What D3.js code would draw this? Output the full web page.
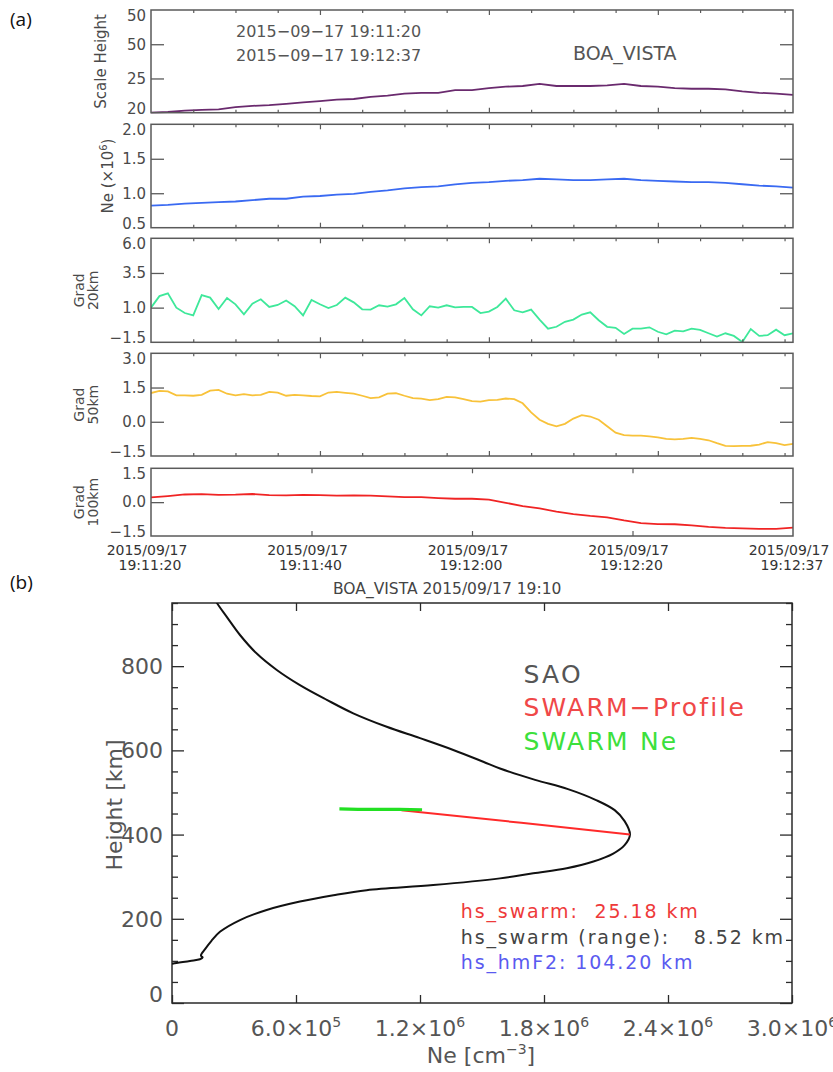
<!DOCTYPE html>
<html><head><meta charset="utf-8">
<script src="https://cdn.jsdelivr.net/npm/d3@7"></script>
<style>body{margin:0;background:#fff}svg{display:block}text{white-space:pre}</style>
</head><body>
<svg id="c" width="833" height="1072"></svg>
<script>
// ---------------- DATA ----------------
// Panel (a): time axis (seconds after 19:11:20)
const timeTickLabels = ["19:11:20", "19:11:40", "19:12:00", "19:12:20", "19:12:37"];
const dateTickLabel = "2015/09/17";
const smoothTimes = [0,2,4,6,8,10,12,14,16,18,20,22,24,26,28,30,32,34,36,38,40,42,44,46,48,50,52,54,56,58,60,62,64,66,68,70,72,74,76];
const fastTimes = d3.range(77);

const scaleHeight = [20.0,20.1,20.3,20.4,20.5,20.8,21.0,21.1,21.3,21.5,21.7,21.9,22.0,22.3,22.5,22.8,22.9,22.9,23.3,23.3,
  23.6,23.8,23.9,24.2,23.9,23.9,23.9,24.0,24.2,23.9,23.8,23.6,23.5,23.5,23.4,23.1,22.9,22.8,22.6];
const neValues = [0.82,0.83,0.85,0.86,0.87,0.88,0.90,0.92,0.92,0.95,0.96,0.98,0.99,1.02,1.04,1.07,1.09,1.10,1.13,1.15,
  1.16,1.18,1.19,1.21,1.20,1.19,1.19,1.20,1.21,1.19,1.18,1.17,1.16,1.16,1.15,1.13,1.11,1.10,1.08];
const grad20 = [1.0,1.83,2.03,1.0,0.61,0.44,1.9,1.72,0.9,1.69,1.24,0.52,1.29,1.6,1.05,1.19,1.51,1.1,0.44,1.55,1.24,0.97,1.19,1.72,1.38,0.88,0.86,1.17,1.07,1.24,1.69,0.88,
  0.44,1.1,1.0,1.17,1.02,1.05,1.05,0.61,0.71,1.05,1.65,0.81,0.66,0.86,0.14,-0.52,-0.38,-0.02,0.14,0.5,0.66,0.09,-0.38,-0.46,-0.9,-0.52,-0.52,-0.42,-0.74,-0.92,-0.66,-0.71,-0.52,-0.61,-0.85,-1.09,-0.85,-1.04,-1.48,-0.54,-1.04,-0.99,-0.59,-0.99,-0.85];
const grad50 = [1.26,1.35,1.33,1.16,1.16,1.14,1.18,1.36,1.40,1.23,1.16,1.21,1.16,1.18,1.31,1.28,1.14,1.18,1.16,1.13,1.11,1.28,1.31,1.27,1.23,1.14,1.04,1.07,1.23,1.25,1.14,1.04,
  1.01,0.95,0.99,1.09,1.07,0.99,0.90,0.88,0.95,0.96,1.02,0.99,0.81,0.41,0.09,-0.09,-0.20,-0.09,0.14,0.29,0.23,0.09,-0.20,-0.48,-0.59,-0.61,-0.61,-0.64,-0.68,-0.75,-0.77,-0.75,-0.71,-0.75,-0.81,-0.94,-1.06,-1.07,-1.06,-1.05,-1.00,-0.89,-0.94,-1.02,-0.97];
const grad100 = [0.21,0.27,0.34,0.36,0.32,0.33,0.36,0.31,0.30,0.32,0.31,0.29,0.30,0.29,0.26,0.22,0.22,0.18,0.15,0.15,
  0.11,-0.03,-0.18,-0.28,-0.42,-0.53,-0.61,-0.67,-0.81,-0.93,-0.97,-0.98,-1.03,-1.10,-1.14,-1.16,-1.18,-1.18,-1.13];

const shTicks = [20, 25, 30, 35];
const shTickLabels = ["20", "25", "50", "50"];
const neTicks = [0.5, 1.0, 1.5, 2.0];
const g20Ticks = [-1.5, 1.0, 3.5, 6.0];
const g50Ticks = [-1.5, 0.0, 1.5, 3.0];
const g100Ticks = [-1.5, 0.0, 1.5];
const headerLines = ["2015\u221209\u221217 19:11:20", "2015\u221209\u221217 19:12:37"];
const stationName = "BOA_VISTA";

// Panel (b): electron density profile
const profileTitle = "BOA_VISTA 2015/09/17 19:10";
const saoNe = [0,6.5e3,8.7e4,1.35e5,1.48e5,1.40e5,1.6e5,1.9e5,2.32e5,3.29e5,4.58e5,6.19e5,7.81e5,9.42e5,1.264e6,1.587e6,1.748e6,1.91e6,2.039e6,2.135e6,2.19e6,2.216e6,
  2.19e6,2.142e6,2.052e6,1.916e6,1.757e6,1.587e6,1.506e6,1.361e6,1.2e6,1.039e6,8.77e5,7.49e5,6.19e5,5.07e5,4.10e5,3.29e5,2.65e5,2.16e5,1.9e5];
const saoHeight = [93,94,100,104,108,113,128,147,169,197,221,241,256,268,280,296,308,320,336,355,375,400,
  432,458,482,508,530,557,573,601,629,656,688,720,755,791,830,874,917,951,975];
const swarmProfileNe = [2.216e6, 1.69e6, 1.11e6];
const swarmProfileHeight = [400, 428, 458];
const swarmNe = [8.1e5, 9.0e5, 1.0e6, 1.1e6, 1.21e6];
const swarmNeHeight = [461, 460, 460, 460, 459];
const neTickValues = [0, 6e5, 1.2e6, 1.8e6, 2.4e6, 3.0e6];
const heightTickValues = [0, 200, 400, 600, 800];
const legendLabels = ["SAO", "SWARM\u2212Profile", "SWARM Ne"];
const statLines = ["hs_swarm:  25.18 km", "hs_swarm (range):   8.52 km", "hs_hmF2: 104.20 km"];

// ---------------- DRAWING ----------------
const FONT = "DejaVu Sans";
const TXT = "#4a4a4a";
const svg = d3.select("#c");

svg.append("text").attr("x", 10).attr("y", 26).attr("font-family", "Open Sans").attr("font-size", 19).attr("fill", "#111").text("(a)");
svg.append("text").attr("x", 10).attr("y", 589).attr("font-family", "Open Sans").attr("font-size", 19).attr("fill", "#111").text("(b)");

const xA = d3.scaleLinear().domain([0, 76]).range([151, 793]);
const fmt1 = d3.format(".1f");

const panels = [
  {top: 10, bottom: 112.7, domain: [20, 35], ticks: shTicks, labels: shTickLabels, times: smoothTimes, vals: scaleHeight, color: "#6a2a6e", title: ["Scale Height"], tx: [105.5], fs: 15},
  {top: 124.3, bottom: 227.7, domain: [0.5, 2.0], ticks: neTicks, times: smoothTimes, vals: neValues, color: "#3a6af2", title: "ne", tx: [113], fs: 15},
  {top: 238.3, bottom: 342.3, domain: [-1.5, 6.0], ticks: g20Ticks, times: fastTimes, vals: grad20, color: "#3ee89a", title: ["Grad", "20km"], tx: [83.5, 98], fs: 14},
  {top: 353.3, bottom: 456, domain: [-1.5, 3.0], ticks: g50Ticks, times: fastTimes, vals: grad50, color: "#f8c23a", title: ["Grad", "50km"], tx: [83.5, 98], fs: 14},
  {top: 468.3, bottom: 536, domain: [-1.5, 1.5], ticks: g100Ticks, times: smoothTimes, vals: grad100, color: "#f02424", title: ["Grad", "100km"], tx: [83.5, 98], fs: 14, last: true}
];

const FRAME = "#5a5a5a";
panels.forEach((p, pi) => {
  const y = d3.scaleLinear().domain(p.domain).range([p.bottom, p.top]);
  const g = svg.append("g");
  const clipId = "clipA" + pi;
  svg.append("clipPath").attr("id", clipId).append("rect")
    .attr("x", 151).attr("y", p.top - 1).attr("width", 642).attr("height", p.bottom - p.top + 2);

  const line = d3.line().x((d, i) => xA(p.times[i])).y(d => y(d));
  g.append("path").datum(p.vals).attr("d", line).attr("fill", "none")
    .attr("stroke", p.color).attr("stroke-width", 1.8).attr("clip-path", `url(#${clipId})`);

  const interior = p.ticks.filter(t => t !== p.domain[0] && t !== p.domain[1]);
  const ax = g.append("g").attr("transform", "translate(151,0)")
    .call(d3.axisLeft(y).tickValues(p.ticks).tickSizeInner(-13).tickSizeOuter(0).tickPadding(5)
      .tickFormat((d, i) => p.labels ? p.labels[i] : fmt1(d)));
  ax.select(".domain").remove();
  ax.attr("font-family", FONT).attr("font-size", 15);
  ax.selectAll(".tick line").attr("stroke", FRAME).attr("stroke-width", 1.3)
    .attr("display", d => interior.includes(d) ? null : "none");
  ax.selectAll(".tick text").attr("fill", TXT)
    .attr("y", d => d === p.domain[0] ? -4.5 : (d === p.domain[1] ? 5.5 : 0));

  const ar = g.append("g").attr("transform", "translate(793,0)")
    .call(d3.axisRight(y).tickValues(interior).tickSizeInner(-13).tickSizeOuter(0).tickFormat(""));
  ar.select(".domain").remove();
  ar.selectAll(".tick line").attr("stroke", FRAME).attr("stroke-width", 1.3);

  const tickSets = p.last ? [{v: [19, 38, 57], s: 5}] : [{v: [5,10,15,25,30,35,45,50,55,65,70,75], s: 3}, {v: [20, 40, 60], s: 5}];
  tickSets.forEach(ts => {
    const at = g.append("g").attr("transform", `translate(0,${p.top})`)
      .call(d3.axisTop(xA).tickValues(ts.v).tickSizeInner(-ts.s).tickSizeOuter(0).tickFormat(""));
    at.select(".domain").remove();
    at.selectAll(".tick line").attr("stroke", FRAME).attr("stroke-width", 1.2);
    const ab = g.append("g").attr("transform", `translate(0,${p.bottom})`)
      .call(d3.axisBottom(xA).tickValues(ts.v).tickSizeInner(-ts.s).tickSizeOuter(0).tickFormat(""));
    ab.select(".domain").remove();
    ab.selectAll(".tick line").attr("stroke", FRAME).attr("stroke-width", 1.2);
  });

  g.append("rect").attr("x", 151).attr("y", p.top).attr("width", 642).attr("height", p.bottom - p.top)
    .attr("fill", "none").attr("stroke", FRAME).attr("stroke-width", 1.5);

  const yc = (p.top + p.bottom) / 2;
  if (p.title === "ne") {
    const t = g.append("text").attr("transform", `translate(${p.tx[0]},${yc}) rotate(-90)`)
      .attr("text-anchor", "middle").attr("font-family", FONT).attr("font-size", p.fs).attr("fill", TXT);
    t.append("tspan").text("Ne (\u00d710");
    t.append("tspan").attr("dy", -6).attr("font-size", 10).text("6");
    t.append("tspan").attr("dy", 6).text(")");
  } else {
    p.title.forEach((s, i) => {
      g.append("text").attr("transform", `translate(${p.tx[i]},${yc}) rotate(-90)`)
        .attr("text-anchor", "middle").attr("font-family", FONT).attr("font-size", p.fs).attr("fill", TXT).text(s);
    });
  }

  if (p.last) {
    const quart = [0, 19, 38, 57, 76];
    const lg = g.append("g").attr("font-family", FONT).attr("font-size", 14).attr("fill", "#333").attr("text-anchor", "middle");
    lg.selectAll("text.d").data(quart).join("text").attr("class", "d")
      .attr("x", d => xA(d) - 4).attr("y", 554.5).text(dateTickLabel);
    lg.selectAll("text.t").data(quart).join("text").attr("class", "t")
      .attr("x", d => xA(d) - 1).attr("y", 570).text((d, i) => timeTickLabels[i]);
  }
});

svg.append("g").attr("font-family", FONT).attr("font-size", 16).attr("fill", "#555")
  .selectAll("text").data(headerLines).join("text")
  .attr("x", 236).attr("y", (d, i) => 36.7 + i * 24.3).text(d => d);
svg.append("text").attr("x", 573).attr("y", 60).attr("font-family", FONT).attr("font-size", 19).attr("fill", "#555").text(stationName);

// ---------------- PANEL (b) ----------------
const L = 172, R = 792, T = 603, B = 1003;
const xB = d3.scaleLinear().domain([0, 3e6]).range([L, R]);
const yB = d3.scaleLinear().domain([0, 950]).range([B, T]);
const FB = "#2a2a2a";
const gb = svg.append("g");

svg.append("clipPath").attr("id", "clipB").append("rect").attr("x", L).attr("y", T).attr("width", R - L).attr("height", B - T);

svg.append("text").attr("x", 333).attr("y", 594).attr("font-family", FONT).attr("font-size", 15.5).attr("fill", "#444").text(profileTitle);

const minorH = d3.range(0, 951, 50).filter(v => v % 200 !== 0);
[[minorH, 6], [heightTickValues, 12]].forEach(([vals, s]) => {
  const a1 = gb.append("g").attr("transform", `translate(${L},0)`)
    .call(d3.axisLeft(yB).tickValues(vals).tickSizeInner(-s).tickSizeOuter(0).tickFormat(""));
  a1.select(".domain").remove(); a1.selectAll(".tick line").attr("stroke", FB).attr("stroke-width", 1.3);
  const a2 = gb.append("g").attr("transform", `translate(${R},0)`)
    .call(d3.axisRight(yB).tickValues(vals).tickSizeInner(-s).tickSizeOuter(0).tickFormat(""));
  a2.select(".domain").remove(); a2.selectAll(".tick line").attr("stroke", FB).attr("stroke-width", 1.3);
});
gb.append("g").attr("font-family", FONT).attr("font-size", 22).attr("fill", "#555").attr("text-anchor", "end")
  .selectAll("text").data(heightTickValues).join("text")
  .attr("x", L - 9).attr("y", d => Math.min(yB(d) + 8, B - 1)).text(d => d);

const axb = gb.append("g").attr("transform", `translate(0,${B})`)
  .call(d3.axisBottom(xB).tickValues(neTickValues).tickSizeInner(-8).tickSizeOuter(0).tickFormat(""));
axb.select(".domain").remove(); axb.selectAll(".tick line").attr("stroke", FB).attr("stroke-width", 1.3);
const axt = gb.append("g").attr("transform", `translate(0,${T})`)
  .call(d3.axisTop(xB).tickValues(neTickValues).tickSizeInner(-8).tickSizeOuter(0).tickFormat(""));
axt.select(".domain").remove(); axt.selectAll(".tick line").attr("stroke", FB).attr("stroke-width", 1.3);

const xl = gb.append("g").attr("font-family", FONT).attr("font-size", 22).attr("fill", "#555");
neTickValues.forEach(v => {
  const t = xl.append("text").attr("x", xB(v)).attr("y", 1036).attr("text-anchor", "middle");
  if (v === 0) { t.text("0"); return; }
  const e = Math.floor(Math.log10(v));
  const m = (v / Math.pow(10, e)).toFixed(1);
  t.append("tspan").text(m + "\u00d710");
  t.append("tspan").attr("dy", -9).attr("font-size", 14).text(e);
});

gb.append("rect").attr("x", L).attr("y", T).attr("width", R - L).attr("height", B - T)
  .attr("fill", "none").attr("stroke", FB).attr("stroke-width", 1.5);

gb.append("text").attr("transform", `translate(122,805) rotate(-90)`).attr("text-anchor", "middle")
  .attr("font-family", FONT).attr("font-size", 22).attr("fill", "#555").text("Height [km]");
const xt = gb.append("text").attr("x", 481).attr("y", 1063).attr("text-anchor", "middle")
  .attr("font-family", FONT).attr("font-size", 22).attr("fill", "#555");
xt.append("tspan").text("Ne [cm");
xt.append("tspan").attr("dy", -9).attr("font-size", 14).text("\u22123");
xt.append("tspan").attr("dy", 9).text("]");

const lineB = (xs, ys, curve) => d3.line().curve(curve || d3.curveLinear).x((d, i) => xB(xs[i])).y((d, i) => yB(ys[i]))(xs);
gb.append("path").attr("d", lineB(saoNe, saoHeight, d3.curveCatmullRom.alpha(0.5))).attr("fill", "none").attr("stroke", "#111").attr("stroke-width", 2)
  .attr("clip-path", "url(#clipB)").attr("stroke-linejoin", "round");
gb.append("path").attr("d", lineB(swarmProfileNe, swarmProfileHeight)).attr("fill", "none").attr("stroke", "#ff2a2a").attr("stroke-width", 2)
  .attr("clip-path", "url(#clipB)");
gb.append("path").attr("d", lineB(swarmNe, swarmNeHeight)).attr("fill", "none").attr("stroke", "#22e022").attr("stroke-width", 3.2)
  .attr("clip-path", "url(#clipB)");

const legColors = ["#555", "#f04848", "#3ce03c"];
gb.append("g").attr("font-family", FONT).attr("font-size", 25).attr("letter-spacing", 2.2)
  .selectAll("text").data(legendLabels).join("text")
  .attr("x", 523.5).attr("y", (d, i) => 682.7 + i * 33.6).attr("fill", (d, i) => legColors[i]).text(d => d);

const statColors = ["#ee3a3a", "#444", "#5a5af0"];
gb.append("g").attr("font-family", FONT).attr("font-size", 19).attr("letter-spacing", 1.9)
  .selectAll("text").data(statLines).join("text")
  .attr("x", 460.7).attr("y", (d, i) => 918.3 + i * 25.5).attr("fill", (d, i) => statColors[i]).text(d => d);
</script>
</body></html>
